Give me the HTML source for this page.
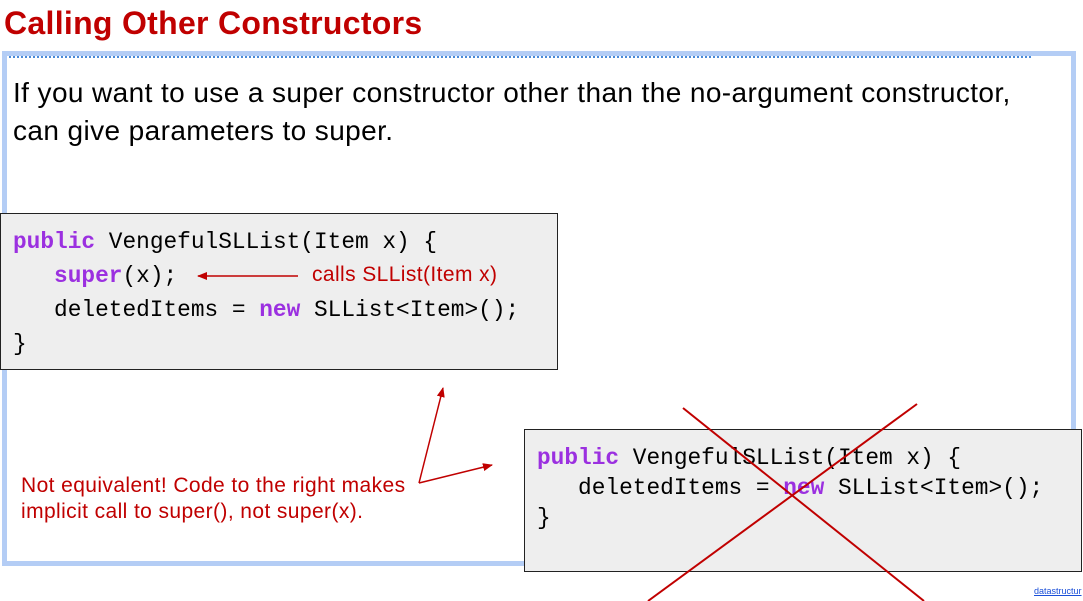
<!DOCTYPE html>
<html><head><meta charset="utf-8"><style>
body{margin:0;width:1083px;height:601px;background:#fff;position:relative;overflow:hidden;font-family:"Liberation Sans",sans-serif}
.t{position:absolute;left:4px;top:5px;font-size:32px;font-weight:bold;color:#c00000;letter-spacing:0.3px}
.frame{position:absolute;left:2px;top:51px;width:1064px;height:505px;border:5px solid #b4cdf5}
.dots{position:absolute;left:9px;top:56px;width:1022px;border-top:2px dotted #4a8ad8}
.p{position:absolute;left:13px;top:74px;font-size:28px;line-height:38px;color:#000;letter-spacing:0.4px;white-space:nowrap}
.code{position:absolute;background:#eeeeee;border:1.5px solid #222;font-family:"Liberation Mono",monospace;font-size:22.8px;color:#000;white-space:pre}
.k{color:#9b30e0;font-weight:bold}
.r{color:#c00000;font-size:21px;letter-spacing:0.4px;position:absolute;white-space:nowrap}
</style></head><body>
<div class="t">Calling Other Constructors</div>
<div class="frame"></div>
<div class="dots"></div>
<div class="p">If you want to use a super constructor other than the no-argument constructor,<br>can give parameters to super.</div>
<div class="code" style="left:0;top:213px;width:558px;height:157px;line-height:34px;padding:11px 0 0 12px;box-sizing:border-box"><span class="k">public</span> VengefulSLList(Item x) {
   <span class="k">super</span>(x);
   deletedItems = <span class="k">new</span> SLList&lt;Item&gt;();
}</div>
<div class="r" style="left:312px;top:263px">calls SLList(Item x)</div>
<div class="code" style="left:524px;top:429px;width:558px;height:143px;line-height:30px;padding:13px 0 0 12px;box-sizing:border-box"><span class="k">public</span> VengefulSLList(Item x) {
   deletedItems = <span class="k">new</span> SLList&lt;Item&gt;();
}</div>
<div class="r" style="left:21px;top:473px;line-height:26px">Not equivalent! Code to the right makes<br>implicit call to super(), not super(x).</div>
<div style="position:absolute;left:1034px;top:586px;font-size:9px;color:#1a4fd8;text-decoration:underline">datastructur</div>
<svg width="1083" height="601" style="position:absolute;left:0;top:0">
<defs><marker id="a" markerWidth="10" markerHeight="8" refX="9" refY="4" orient="auto" markerUnits="userSpaceOnUse"><path d="M0,0L10,4L0,8z" fill="#c00000"/></marker></defs>
<g stroke="#c00000" stroke-width="1.5" fill="none">
<line x1="298" y1="276" x2="198" y2="276" marker-end="url(#a)"/>
<line x1="419" y1="483" x2="443" y2="388" marker-end="url(#a)"/>
<line x1="419" y1="483" x2="492" y2="465" marker-end="url(#a)"/>
<line x1="683" y1="408" x2="924" y2="601" stroke-width="2"/>
<line x1="917" y1="404" x2="648" y2="601" stroke-width="2"/>
</g></svg>
</body></html>
